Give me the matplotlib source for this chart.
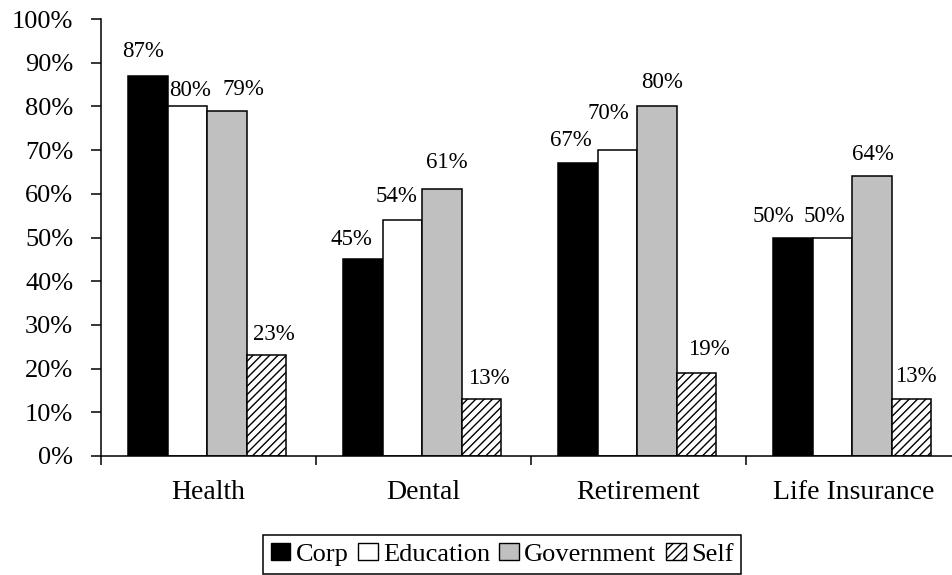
import numpy as np
import matplotlib
matplotlib.use('Agg')
import matplotlib.pyplot as plt
from matplotlib.patches import Patch

# Dados do gráfico
categories = ['Health', 'Dental', 'Retirement', 'Life Insurance']
series_names = ['Corp', 'Education', 'Government', 'Self']
corp = [87, 45, 67, 50]
education = [80, 54, 70, 50]
government = [79, 61, 80, 64]
self_emp = [23, 13, 19, 13]
y_ticks = [0, 10, 20, 30, 40, 50, 60, 70, 80, 90, 100]

# Ajustes manuais das etiquetas (em pixels), como no original
label_nudge = [
    [(-5, 24), (-11, 20), (-7, 23), (-19, 21)],
    [(3, 16), (-6, 24), (-9, 37), (-8, 21)],
    [(16, 21), (5, 27), (5, 24), (1, 22)],
    [(7, 21), (7, 21), (12, 23), (4, 23)],
]

plt.rcParams['font.family'] = ['Liberation Serif', 'DejaVu Serif']
plt.rcParams['hatch.linewidth'] = 1.0

fig = plt.figure(figsize=(9.53, 5.75), dpi=100)
ax = fig.add_axes([101 / 953, 119 / 575, 860 / 953, 437 / 575])

values = [corp, education, government, self_emp]
faces = ['black', 'white', '#c0c0c0', 'white']
hatches = [None, None, None, '////']
width = 0.184
x = np.arange(len(categories))

for k, (vals, fc, h) in enumerate(zip(values, faces, hatches)):
    pos = x + (k - 1.5) * width - 0.006
    ax.bar(pos, vals, width, color=fc, edgecolor='black', linewidth=1.1,
           hatch=h, zorder=2)
    for i, v in enumerate(vals):
        dx, dy = label_nudge[k][i]
        ax.annotate(f'{v}%', (pos[i], v), xytext=(dx, dy),
                    textcoords='offset pixels', ha='center', va='center',
                    fontsize=16.5)

ax.set_xlim(-0.5, 3.5)
ax.set_ylim(0, 100)
ax.spines['top'].set_visible(False)
ax.spines['right'].set_visible(False)
ax.spines['left'].set_linewidth(1.1)
ax.spines['bottom'].set_linewidth(1.1)

ax.set_yticks(y_ticks)
ax.set_yticklabels([f'{t}%' for t in y_ticks], fontsize=19)
ax.tick_params(axis='y', length=7, width=1.1, pad=13, direction='out')

ax.set_xticks(x)
ax.set_xticklabels(categories, fontsize=20)
ax.set_xticks(np.arange(-0.5, 4.0, 1.0), minor=True)
ax.tick_params(axis='x', which='major', length=0, pad=17)
ax.tick_params(axis='x', which='minor', length=6.5, width=1.1, direction='out')

handles = [Patch(facecolor=fc, edgecolor='black', hatch=h, linewidth=1.0)
           for fc, h in zip(faces, hatches)]
leg = fig.legend(handles, series_names, loc='upper center',
                 bbox_to_anchor=(502 / 953, 1 - 535 / 575), ncol=4,
                 fontsize=19, frameon=True, fancybox=False, framealpha=1,
                 edgecolor='black', borderaxespad=0, borderpad=0.3,
                 handlelength=0.75, handleheight=0.6, handletextpad=0.2,
                 columnspacing=0.35)
leg.get_frame().set_linewidth(1.1)

fig.savefig('out.png', dpi=100)
